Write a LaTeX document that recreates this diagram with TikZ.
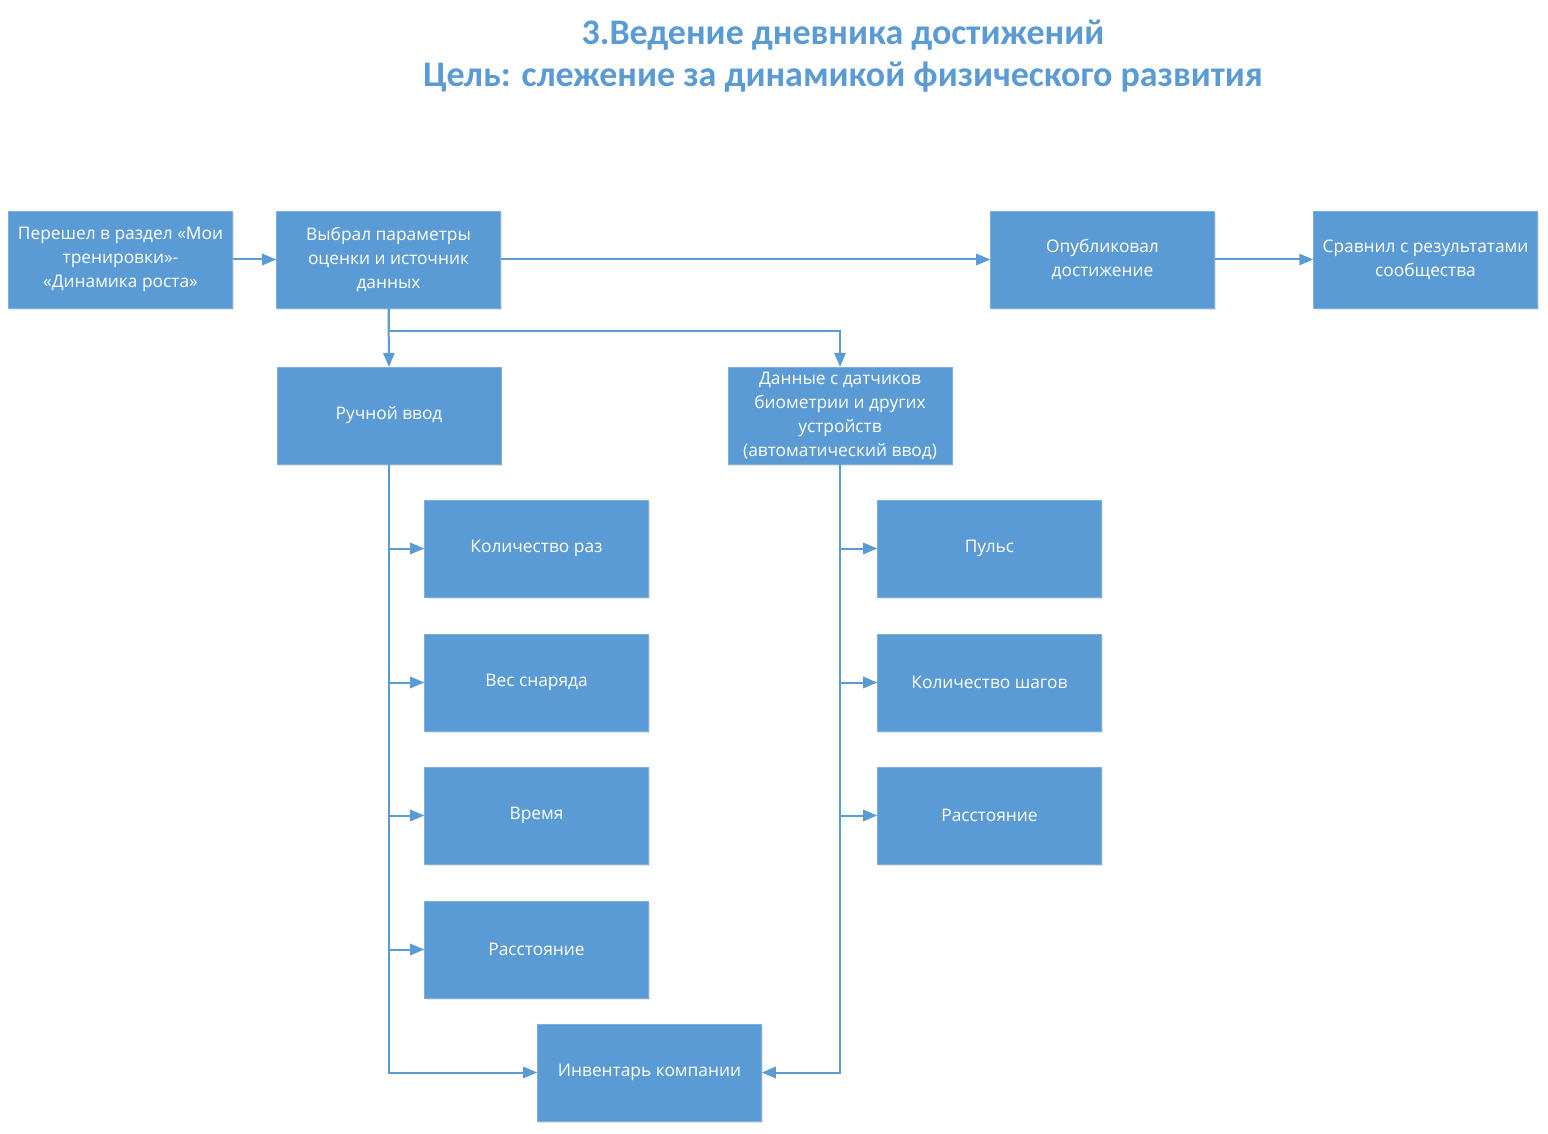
\documentclass[tikz,border=0pt]{standalone}
\usepackage{fontspec}
\setmainfont{Open Sans}
\newfontfamily\titlefont{Carlito}
\usetikzlibrary{positioning,arrows.meta,shadows}
\definecolor{boxblue}{HTML}{5B9BD5}
\definecolor{titleblue}{HTML}{5B9BD5}

\begin{document}
\begin{tikzpicture}[x=0.75pt,y=-0.75pt,
	box/.style={draw=boxblue!80!white,fill=boxblue,text=white,minimum width=168pt,minimum height=72.5pt,align=center,inner sep=2pt,font=\fontsize{13}{18}\selectfont,drop shadow={opacity=0.2,shadow xshift=1pt,shadow yshift=-1.5pt}},
	link/.style={draw=boxblue,line width=1.5pt,-{Triangle[length=10.5pt,width=8.5pt]}}]
\useasboundingbox (0,0) rectangle (1548,1134);
% title
\node [align=center,text=titleblue,font=\titlefont\bfseries\fontsize{27}{32}\selectfont] (title) at (843,56) {3.Ведение дневника достижений\\Цель: слежение за динамикой физического развития};
% top row
\node [box] (razdel) at (120.5,259.5) {Перешел в раздел «Мои\\тренировки»-\\«Динамика роста»};
\node [box] (param) at (388.5,259.5) {Выбрал параметры\\оценки и источник\\данных};
\node [box] (publ) at (1102.5,259.5) {Опубликовал\\достижение};
\node [box] (sravn) at (1425.5,259.5) {Сравнил с результатами\\сообщества};
% input sources
\node [box] (ruchn) at (389,415.5) {Ручной ввод};
\node [box] (datch) at (840,415.5) {Данные с датчиков\\биометрии и других\\устройств\\(автоматический ввод)};
% manual branch
\foreach \y/\t/\n in {548.5/Количество раз/kol,682.5/Вес снаряда/ves,815.5/Время/vrem,949.5/Расстояние/rasst}
	\node [box] (\n) at (536.5,\y) {\t};
% sensor branch
\foreach \y/\t/\n in {548.5/Пульс/puls,682.5/Количество шагов/shag,815.5/Расстояние/drasst}
	\node [box] (\n) at (989.5,\y) {\t};
\node [box] (invent) at (649.5,1072.5) {Инвентарь компании};
% connectors
\draw [link] (razdel) -- (param);
\draw [link] (param) -- (publ);
\draw [link] (publ) -- (sravn);
\draw [link] (param.south) -- (ruchn.north);
\draw [link] (param.south) -- ++(0,23) -| (datch.north);
\draw [link] (ruchn.south) |- (invent.west);
\draw [link] (datch.south) |- (invent.east);
\foreach \n in {kol,ves,vrem,rasst}
	\draw [link] (ruchn.south |- \n.west) -- (\n.west);
\foreach \n in {puls,shag,drasst}
	\draw [link] (datch.south |- \n.west) -- (\n.west);
\end{tikzpicture}
\end{document}
